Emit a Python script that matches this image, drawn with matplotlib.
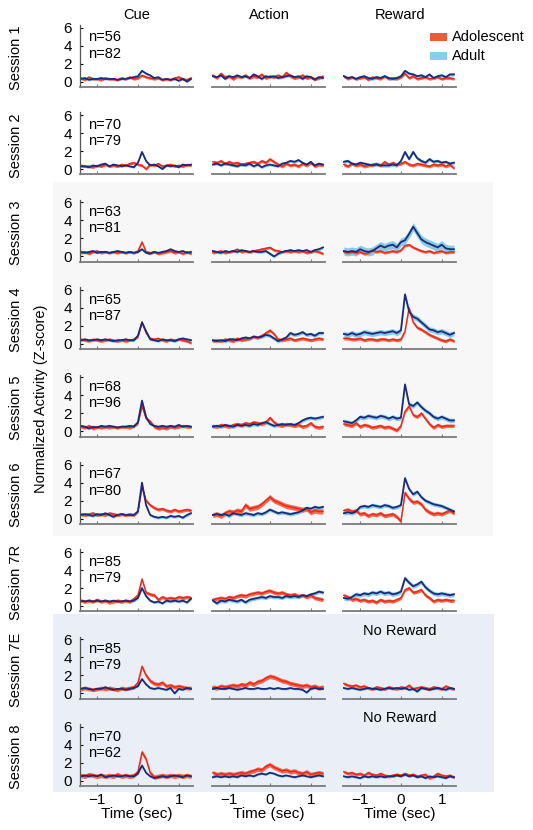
import matplotlib
matplotlib.use("Agg")
import matplotlib.pyplot as plt
from matplotlib.patches import Rectangle
import numpy as np

plt.rcParams['font.family'] = ['Liberation Sans', 'DejaVu Sans']

# time bins (sec), one value per 100 ms bin
t = np.linspace(-1.4, 1.3, 28)

sessions = ['1', '2', '3', '4', '5', '6', '7R', '7E', '8']
phases = ['Cue', 'Action', 'Reward']
n_adol = [56, 70, 63, 65, 68, 67, 85, 85, 70]
n_adult = [82, 79, 81, 87, 96, 80, 79, 79, 62]

# mean z-scores
s1_cue_adol = [0.4,0.2,0.5,0.3,0.3,0.2,0.4,0.3,0.3,0.2,0.4,0.3,0.5,0.3,0.4,0.7,0.5,0.4,0.3,0.4,0.2,0.3,0.2,0.4,0.5,0.3,0.2,0.4]
s1_cue_adult = [0.3,0.4,0.2,0.3,0.3,0.4,0.3,0.3,0.3,0.2,0.3,0.3,0.4,0.5,0.6,1.2,0.9,0.7,0.4,0.5,0.2,0.3,0.2,0.3,0.1,0.3,0.0,0.3]
s1_act_adol = [0.7,0.4,0.9,0.5,0.6,0.3,0.6,0.5,0.7,0.4,0.6,0.5,0.8,0.4,0.6,0.5,0.7,0.5,1.0,0.6,0.4,0.5,0.7,0.4,0.5,0.3,0.4,0.6]
s1_act_adult = [0.6,0.5,0.7,0.3,0.6,0.5,0.7,0.5,0.6,0.4,0.8,0.6,0.3,0.6,0.5,0.6,0.4,0.5,0.6,0.7,0.5,0.6,0.3,0.6,0.5,0.2,0.5,0.4]
s1_rew_adol = [0.6,0.3,0.5,0.3,0.4,0.5,0.2,0.5,0.4,0.3,0.6,0.3,0.4,0.3,0.5,0.9,0.4,0.6,0.3,0.4,0.5,0.3,0.4,0.5,0.3,0.4,0.4,0.3]
s1_rew_adult = [0.6,0.4,0.5,0.3,0.5,0.6,0.4,0.3,0.5,0.4,0.6,0.4,0.3,0.4,0.6,1.2,0.9,0.8,0.6,0.7,0.5,0.8,0.4,0.6,0.7,0.5,0.8,0.8]

s2_cue_adol = [0.4,0.3,0.3,0.2,0.4,0.3,0.5,0.3,0.4,0.3,0.5,0.4,0.6,0.7,0.5,0.4,0.0,0.5,0.4,0.6,0.3,0.4,0.5,0.3,0.4,0.3,0.5,0.4]
s2_cue_adult = [0.3,0.3,0.2,0.4,0.3,0.5,0.6,0.3,0.5,0.4,0.3,0.4,0.3,0.2,0.7,1.9,0.9,0.4,0.5,0.3,0.0,0.4,0.3,0.4,0.2,0.5,0.4,0.5]
s2_act_adol = [0.8,0.7,0.9,0.6,0.8,0.6,0.7,0.5,0.6,0.7,0.8,0.6,0.9,0.7,1.1,0.8,0.5,0.3,0.6,0.4,0.5,0.3,0.6,0.4,0.7,0.3,0.5,0.4]
s2_act_adult = [0.5,0.6,0.4,0.6,0.5,0.4,0.3,0.5,0.4,0.6,0.3,0.5,0.2,0.4,0.5,0.4,0.3,0.6,0.7,0.9,0.8,1.0,0.7,0.5,0.8,0.4,0.6,0.5]
s2_rew_adol = [0.5,0.3,0.6,0.4,0.5,0.3,0.4,0.5,0.6,0.4,0.8,0.5,0.7,0.5,0.6,0.8,0.5,0.4,0.6,0.5,0.4,0.3,0.5,0.4,0.5,0.3,0.5,0.1]
s2_rew_adult = [0.8,0.9,0.6,0.5,0.7,0.6,0.5,0.4,0.5,0.4,0.4,0.4,0.5,0.4,0.9,1.9,1.1,1.9,1.2,0.9,0.7,1.1,0.8,0.9,0.7,0.8,0.6,0.7]

s3_cue_adol = [0.4,0.5,0.3,0.5,0.6,0.4,0.5,0.4,0.5,0.4,0.5,0.4,0.5,0.4,0.6,1.6,0.5,0.4,0.5,0.3,0.4,0.5,0.6,0.4,0.5,0.3,0.5,0.3]
s3_cue_adult = [0.5,0.4,0.5,0.6,0.4,0.5,0.5,0.4,0.5,0.6,0.5,0.4,0.5,0.4,0.5,0.8,0.4,0.3,0.5,0.4,0.5,0.6,0.8,0.6,0.5,0.6,0.4,0.5]
s3_act_adol = [0.4,0.5,0.6,0.4,0.5,0.6,0.8,0.5,0.6,0.5,0.6,0.7,0.8,0.9,1.0,0.7,0.6,0.5,0.6,0.5,0.6,0.5,0.6,0.4,0.5,0.6,0.5,0.3]
s3_act_adult = [0.6,0.5,0.4,0.6,0.5,0.6,0.5,0.7,0.6,0.5,0.6,0.5,0.5,0.6,0.3,0.0,0.3,0.5,0.6,0.7,0.6,0.7,0.6,0.7,0.5,0.7,0.8,1.0]
s3_rew_adol = [0.5,0.4,0.5,0.4,0.5,0.3,0.4,0.7,0.5,0.6,0.4,0.5,0.6,0.5,0.7,1.2,1.3,1.0,0.8,0.6,0.5,0.6,0.4,0.5,0.6,0.4,0.5,0.5]
s3_rew_adult = [0.6,0.5,0.6,0.5,0.8,0.6,0.5,0.6,0.9,1.2,1.0,1.2,1.3,1.0,1.6,1.8,2.5,3.3,2.6,1.9,1.6,1.4,1.2,1.0,1.3,0.9,0.8,0.8]

s4_cue_adol = [0.5,0.4,0.3,0.5,0.4,0.3,0.4,0.5,0.4,0.3,0.4,0.3,0.4,0.5,0.8,2.4,1.2,0.6,0.5,0.6,0.4,0.3,0.5,0.4,0.5,0.4,0.3,0.1]
s4_cue_adult = [0.4,0.5,0.4,0.4,0.5,0.4,0.5,0.4,0.3,0.4,0.4,0.5,0.4,0.4,0.9,2.4,1.4,0.5,0.4,0.3,0.5,0.4,0.4,0.3,0.5,0.6,0.5,0.4]
s4_act_adol = [0.3,0.4,0.3,0.5,0.4,0.3,0.6,0.4,0.5,0.6,0.8,0.7,0.9,1.2,1.5,1.1,0.5,0.4,0.5,0.6,0.4,0.5,0.6,0.5,0.4,0.5,0.6,0.5]
s4_act_adult = [0.4,0.3,0.4,0.3,0.5,0.5,0.4,0.6,0.7,0.6,0.8,0.7,0.8,1.0,0.9,0.6,0.3,0.5,0.7,1.2,1.0,1.1,1.3,1.0,1.1,0.9,1.2,1.2]
s4_rew_adol = [0.6,0.6,0.5,0.5,0.6,0.4,0.5,0.5,0.4,0.5,0.5,0.4,0.5,0.4,0.5,1.4,4.0,2.4,1.8,1.6,1.3,1.0,0.8,0.6,0.4,0.3,0.5,0.3]
s4_rew_adult = [1.1,1.0,1.2,1.0,1.1,1.3,1.2,1.1,1.2,1.3,1.2,1.3,1.4,1.2,1.5,5.5,3.6,3.0,2.8,2.4,2.0,1.6,1.5,1.3,1.4,1.2,1.0,1.2]

s5_cue_adol = [0.5,0.4,0.6,0.3,0.5,0.4,0.5,0.4,0.5,0.4,0.5,0.5,0.4,0.6,0.9,2.8,1.4,1.1,0.5,0.3,0.4,0.3,0.5,0.4,0.5,0.6,0.5,0.5]
s5_cue_adult = [0.6,0.5,0.3,0.5,0.4,0.6,0.5,0.6,0.5,0.4,0.5,0.5,0.6,0.5,1.0,3.4,1.6,0.8,0.6,0.5,0.6,0.5,0.6,0.5,0.7,0.5,0.6,0.5]
s5_act_adol = [0.6,0.5,0.7,0.6,0.5,0.7,0.8,0.7,0.9,0.8,1.0,0.9,0.8,1.0,1.5,1.0,0.7,0.6,0.8,0.7,0.6,0.7,0.5,0.6,0.9,0.5,0.4,0.5]
s5_act_adult = [0.5,0.6,0.5,0.7,0.6,0.5,0.7,0.6,0.7,0.6,0.8,0.7,0.9,1.0,0.8,0.6,0.7,0.8,0.7,0.8,0.7,0.9,1.2,1.4,1.5,1.4,1.5,1.6]
s5_rew_adol = [0.8,0.7,0.6,0.9,0.5,0.7,0.6,0.4,0.5,0.6,0.4,0.5,0.3,0.1,0.6,2.2,2.8,1.8,1.6,2.0,1.4,0.8,0.4,0.7,0.5,0.6,0.6,0.6]
s5_rew_adult = [1.1,1.0,0.9,1.2,1.6,1.5,1.7,1.6,1.5,1.7,1.6,1.4,1.6,1.4,1.5,5.2,3.0,2.8,3.2,2.7,2.3,2.0,1.6,1.4,1.6,1.4,1.2,1.2]

s6_cue_adol = [0.5,0.4,0.5,0.6,0.4,0.5,0.4,0.6,0.5,0.4,0.5,0.4,0.5,0.4,0.8,3.5,2.0,1.5,1.2,1.0,1.1,0.9,0.8,1.0,0.8,0.9,1.0,0.9]
s6_cue_adult = [0.4,0.5,0.4,0.3,0.5,0.4,0.6,0.4,0.2,0.4,0.5,0.4,0.4,0.4,0.8,4.0,1.5,0.4,0.2,0.1,0.2,0.1,0.3,0.2,0.3,0.1,0.4,0.6]
s6_act_adol = [0.4,0.5,0.3,0.6,0.8,0.7,0.9,0.8,1.5,1.1,1.2,1.3,1.6,2.0,2.4,2.0,1.8,1.6,1.4,1.3,1.2,1.1,1.0,1.1,0.7,0.9,0.8,0.8]
s6_act_adult = [0.4,0.5,0.4,0.5,0.3,0.6,0.5,0.4,0.6,0.5,0.4,0.6,0.5,0.7,1.0,0.8,0.6,0.7,0.6,0.5,0.6,0.7,0.9,1.2,1.1,1.3,1.2,1.3]
s6_rew_adol = [0.9,1.0,0.8,0.9,0.5,0.6,0.3,0.5,0.4,0.6,0.3,0.4,0.5,0.2,-0.3,2.9,2.2,1.8,1.9,1.6,1.0,0.7,0.5,0.6,0.5,0.7,0.9,0.6]
s6_rew_adult = [0.6,0.7,0.6,0.8,1.3,1.4,1.3,1.5,1.4,1.3,1.5,1.4,1.2,1.3,1.5,4.5,3.3,2.7,3.0,2.4,2.0,1.8,1.6,1.5,1.4,1.2,1.0,0.8]

s7r_cue_adol = [0.6,0.5,0.6,0.5,0.7,0.5,0.6,0.4,0.5,0.6,0.5,0.6,0.5,0.8,1.2,3.0,1.5,1.3,1.2,0.7,1.0,0.8,0.9,0.8,1.0,0.9,1.0,0.9]
s7r_cue_adult = [0.6,0.5,0.6,0.5,0.6,0.5,0.6,0.5,0.6,0.5,0.5,0.6,0.5,0.6,0.9,2.0,1.1,0.6,0.4,0.5,0.3,0.6,0.5,0.6,0.5,0.6,0.4,0.8]
s7r_act_adol = [0.7,0.8,0.9,0.8,1.0,0.9,1.1,1.2,1.1,1.3,1.4,1.5,1.4,1.6,1.7,1.5,1.4,1.5,1.3,1.2,1.3,1.1,1.2,1.0,1.2,0.9,0.8,0.7]
s7r_act_adult = [0.6,0.3,0.6,0.5,0.7,0.6,0.5,0.7,0.4,0.7,0.8,0.9,1.0,0.9,1.1,1.0,1.0,0.9,1.1,1.0,1.1,1.0,1.2,1.1,1.3,1.4,1.6,1.5]
s7r_rew_adol = [1.2,1.0,0.7,0.8,0.6,0.7,0.5,0.6,0.4,0.7,0.5,0.6,0.5,0.7,0.9,1.8,2.0,1.5,1.6,1.8,1.2,0.9,0.5,0.7,0.6,0.7,0.6,0.6]
s7r_rew_adult = [0.9,0.8,1.0,1.3,1.2,1.4,1.3,1.5,1.4,1.6,1.4,1.5,1.3,1.4,1.6,3.1,2.6,2.2,2.4,2.7,2.1,1.7,1.4,1.3,1.4,1.3,1.2,1.3]

s7e_cue_adol = [0.5,0.6,0.5,0.4,0.5,0.6,0.5,0.6,0.5,0.4,0.6,0.5,0.6,0.7,1.2,3.0,2.0,1.4,1.1,1.0,1.2,0.8,0.9,0.7,0.8,0.7,0.6,0.6]
s7e_cue_adult = [0.5,0.6,0.5,0.4,0.5,0.5,0.7,0.5,0.4,0.5,0.5,0.4,0.5,0.6,0.8,1.6,1.0,0.6,0.5,0.6,0.5,0.4,0.6,0.0,0.5,0.4,0.6,0.5]
s7e_act_adol = [0.7,0.6,0.8,0.7,0.8,0.9,0.8,1.0,0.9,1.2,1.0,1.3,1.4,1.7,1.9,1.8,1.6,1.4,1.3,1.1,1.0,0.9,0.8,0.9,0.7,0.8,0.6,0.7]
s7e_act_adult = [0.5,0.6,0.5,0.5,0.6,0.5,0.4,0.5,0.6,0.5,0.5,0.6,0.5,0.5,0.6,0.5,0.6,0.5,0.5,0.6,0.5,0.5,0.4,0.1,0.5,0.6,0.5,0.5]
s7e_rew_adol = [1.1,0.9,0.8,0.9,0.7,0.8,0.6,0.5,0.7,0.6,0.5,0.7,0.6,0.5,0.7,0.6,0.9,0.5,0.6,0.7,0.6,0.5,0.7,0.6,0.5,0.8,0.6,0.5]
s7e_rew_adult = [0.6,0.5,0.6,0.5,0.4,0.5,0.6,0.5,0.5,0.4,0.5,0.6,0.5,0.6,0.5,0.6,0.4,0.5,0.2,0.6,0.5,0.4,0.5,0.6,0.5,0.4,0.6,0.5]

s8_cue_adol = [0.6,0.5,0.7,0.6,0.5,0.6,0.5,0.6,0.5,0.7,0.5,0.6,0.5,0.6,1.0,3.2,2.4,0.9,0.4,0.5,0.6,0.5,0.6,0.5,0.6,0.5,0.6,0.5]
s8_cue_adult = [0.5,0.6,0.5,0.6,0.5,0.7,0.4,0.5,0.6,0.5,0.5,0.6,0.5,0.5,0.8,1.7,0.9,0.5,0.3,0.4,0.5,0.4,0.5,0.6,0.5,0.4,0.6,0.5]
s8_act_adol = [0.9,0.7,0.8,0.7,0.8,0.7,0.8,0.9,0.8,1.0,1.1,1.3,1.2,1.6,1.8,1.5,1.3,1.1,1.2,1.0,1.1,0.9,0.8,1.0,0.7,0.8,0.9,0.8]
s8_act_adult = [0.4,0.5,0.4,0.5,0.4,0.5,0.4,0.6,0.5,0.6,0.5,0.7,0.8,0.7,0.9,0.8,0.6,0.5,0.6,0.5,0.4,0.5,0.6,0.5,0.4,0.5,0.6,0.5]
s8_rew_adol = [1.0,0.8,0.9,0.7,0.8,0.6,0.9,0.7,0.6,0.8,0.6,0.5,0.6,0.7,0.6,0.8,0.6,0.7,0.5,0.6,0.7,0.3,0.5,0.8,0.6,0.5,0.6,0.4]
s8_rew_adult = [0.5,0.4,0.5,0.4,0.3,0.5,0.4,0.5,0.4,0.5,0.4,0.5,0.5,0.6,0.5,0.7,0.5,0.6,0.4,0.5,0.3,0.5,0.4,0.5,0.4,0.3,0.5,0.4]

# SEM half-widths of the shaded bands (cue, action, reward)
sem_adol = [[0.15, 0.18, 0.15], [0.15, 0.18, 0.18], [0.15, 0.15, 0.15],
            [0.15, 0.18, 0.18], [0.18, 0.20, 0.20], [0.18, 0.28, 0.22],
            [0.20, 0.22, 0.20], [0.22, 0.25, 0.18], [0.25, 0.25, 0.18]]
sem_adult = [[0.12, 0.15, 0.18], [0.12, 0.15, 0.20], [0.12, 0.15, 0.45],
             [0.15, 0.20, 0.30], [0.15, 0.20, 0.25], [0.15, 0.20, 0.22],
             [0.15, 0.20, 0.25], [0.10, 0.10, 0.12], [0.10, 0.10, 0.12]]

adol = [[s1_cue_adol, s1_act_adol, s1_rew_adol], [s2_cue_adol, s2_act_adol, s2_rew_adol],
        [s3_cue_adol, s3_act_adol, s3_rew_adol], [s4_cue_adol, s4_act_adol, s4_rew_adol],
        [s5_cue_adol, s5_act_adol, s5_rew_adol], [s6_cue_adol, s6_act_adol, s6_rew_adol],
        [s7r_cue_adol, s7r_act_adol, s7r_rew_adol], [s7e_cue_adol, s7e_act_adol, s7e_rew_adol],
        [s8_cue_adol, s8_act_adol, s8_rew_adol]]
adult = [[s1_cue_adult, s1_act_adult, s1_rew_adult], [s2_cue_adult, s2_act_adult, s2_rew_adult],
         [s3_cue_adult, s3_act_adult, s3_rew_adult], [s4_cue_adult, s4_act_adult, s4_rew_adult],
         [s5_cue_adult, s5_act_adult, s5_rew_adult], [s6_cue_adult, s6_act_adult, s6_rew_adult],
         [s7r_cue_adult, s7r_act_adult, s7r_rew_adult], [s7e_cue_adult, s7e_act_adult, s7e_rew_adult],
         [s8_cue_adult, s8_act_adult, s8_rew_adult]]

RED_LINE = '#e8281c'
RED_BAND = '#f3684e'
BLUE_LINE = '#1d2a78'
BLUE_BAND = '#84cbeb'
AXIS_GRAY = '#7a7a7a'

W, H = 533, 830
fig = plt.figure(figsize=(W / 100, H / 100), dpi=100)


def fx(px):
    return px / W


def fy(py):
    return 1 - py / H


# shaded session groups, drawn on a background axes behind the panels
bg = fig.add_axes([0, 0, 1, 1], zorder=-10)
bg.set_xlim(0, W)
bg.set_ylim(H, 0)
bg.axis('off')
bg.add_patch(Rectangle((53, 182), 440, 536 - 182, color='#f7f7f7', lw=0))
bg.add_patch(Rectangle((53, 614), 441, 792 - 614, color='#e9eef7', lw=0))
# legend swatches
bg.add_patch(Rectangle((430, 33), 17, 8, color='#ef5a3c', lw=0))
bg.add_patch(Rectangle((430, 52), 17, 8, color='#87ceeb', lw=0))

col_left = [80, 212, 343]
col_w = 113
panel_h = 62

for i, s in enumerate(sessions):
    bottom_px = 87 + 87.4 * i
    for j in range(3):
        ax = fig.add_axes([fx(col_left[j]), fy(bottom_px), fx(col_w), panel_h / H])
        ax.patch.set_alpha(0)
        m1 = np.array(adol[i][j])
        m2 = np.array(adult[i][j])
        ax.fill_between(t, m2 - sem_adult[i][j], m2 + sem_adult[i][j], color=BLUE_BAND, lw=0)
        ax.fill_between(t, m1 - sem_adol[i][j], m1 + sem_adol[i][j], color=RED_BAND, lw=0)
        ax.plot(t, m1, color=RED_LINE, lw=1.0)
        ax.plot(t, m2, color=BLUE_LINE, lw=1.3)
        ax.set_xlim(-1.42, 1.35)
        ax.set_ylim(-0.6, 6.3)
        for side in ['top', 'right']:
            ax.spines[side].set_visible(False)
        ax.spines['bottom'].set_color(AXIS_GRAY)
        ax.spines['bottom'].set_linewidth(1.3)
        ax.set_xticks([-1, 0, 1])
        ax.tick_params(axis='x', direction='in', length=2, color=AXIS_GRAY,
                       labelsize=11, pad=5)
        if i < len(sessions) - 1:
            ax.set_xticklabels([])
        else:
            ax.set_xlabel('Time (sec)', fontsize=11, labelpad=0)
        if j == 0:
            ax.spines['left'].set_color('#555555')
            ax.spines['left'].set_linewidth(0.9)
            ax.set_yticks([0, 2, 4, 6])
            ax.tick_params(axis='y', direction='in', length=2, labelsize=11, pad=6)
            ax.text(0.07, 0.80, 'n=%d' % n_adol[i], transform=ax.transAxes,
                    fontsize=10.5, va='center')
            ax.text(0.07, 0.54, 'n=%d' % n_adult[i], transform=ax.transAxes,
                    fontsize=10.5, va='center')
        else:
            ax.spines['left'].set_visible(False)
            ax.set_yticks([])
        if j == 2 and s in ('7E', '8'):
            ax.text(0.5, 1.1, 'No Reward', transform=ax.transAxes,
                    fontsize=10.5, ha='center', va='center')
    fig.text(fx(16), fy(bottom_px - panel_h / 2 + 2), 'Session ' + s, rotation=90,
             fontsize=10.5, ha='center', va='center')

# column titles
for j, p in enumerate(phases):
    fig.text(fx(col_left[j] + 57), fy(15), p, fontsize=10.5, ha='center', va='center')

fig.text(fx(41), fy(399), 'Normalized Activity (Z-score)', rotation=90,
         fontsize=10.5, ha='center', va='center')

fig.text(fx(452), fy(37), 'Adolescent', fontsize=10.5, va='center')
fig.text(fx(452), fy(56), 'Adult', fontsize=10.5, va='center')

fig.savefig('out.png', dpi=100)
